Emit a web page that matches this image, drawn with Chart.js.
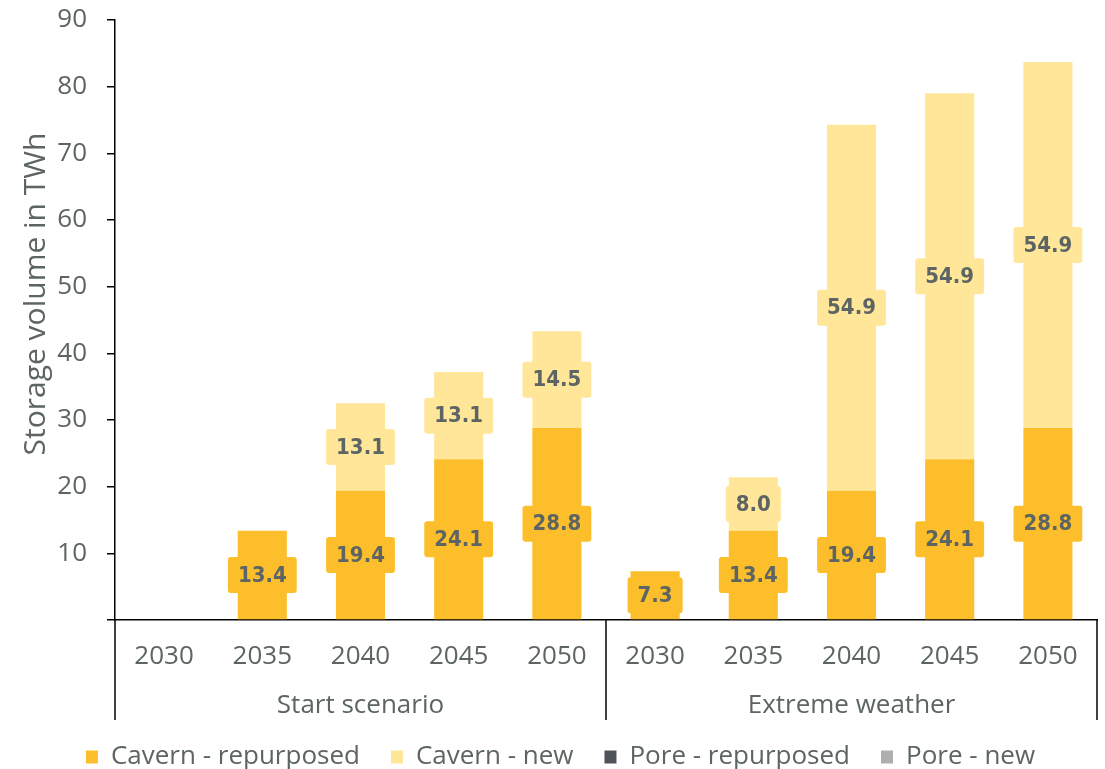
<!DOCTYPE html>
<html>
<head>
<meta charset="utf-8">
<script src="https://cdn.jsdelivr.net/npm/chart.js@4.4.1/dist/chart.umd.min.js"></script>
<style>
  html, body { margin: 0; padding: 0; background: #ffffff; }
  #wrap { width: 1105px; height: 769px; position: relative; }
</style>
</head>
<body>
<div id="wrap"><canvas id="c" width="1105" height="769"></canvas></div>
<script>
// ---- data ----
const years = ['2030', '2035', '2040', '2045', '2050', '2030', '2035', '2040', '2045', '2050'];
const groups = ['Start scenario', 'Extreme weather'];
const groupSize = 5;
const cavernRepurposed = [0, 13.4, 19.4, 24.1, 28.8, 7.3, 13.4, 19.4, 24.1, 28.8];
const cavernNew = [0, 0, 13.1, 13.1, 14.5, 0, 8.0, 54.9, 54.9, 54.9];
const poreRepurposed = [0, 0, 0, 0, 0, 0, 0, 0, 0, 0];
const poreNew = [0, 0, 0, 0, 0, 0, 0, 0, 0, 0];
const seriesNames = ['Cavern - repurposed', 'Cavern - new', 'Pore - repurposed', 'Pore - new'];
const yTicks = [10, 20, 30, 40, 50, 60, 70, 80, 90];
const yTitle = 'Storage volume in TWh';

// ---- style ----
const TEXT = '#5d6464';
const FONT = '"Open Sans", "DejaVu Sans", sans-serif';
const COLORS = ['#FDBE2B', '#FFE699', '#50545A', '#AFAFAF'];

const groupPlugin = {
  id: 'groups',
  afterDraw(chart) {
    const ctx = chart.ctx;
    const xs = chart.scales.x;
    const ca = chart.chartArea;
    const bottom = ca.bottom + 100;
    ctx.save();
    ctx.strokeStyle = '#000';
    ctx.lineWidth = 1.5;
    const seps = [ca.left];
    for (let g = 1; g < groups.length; g++) {
      const i = g * groupSize;
      seps.push((xs.getPixelForValue(i - 1) + xs.getPixelForValue(i)) / 2);
    }
    seps.push(ca.right);
    seps.forEach(x => {
      ctx.beginPath();
      ctx.moveTo(x, ca.bottom);
      ctx.lineTo(x, bottom);
      ctx.stroke();
    });
    ctx.fillStyle = TEXT;
    ctx.font = '26px ' + FONT;
    ctx.textAlign = 'center';
    ctx.textBaseline = 'middle';
    groups.forEach((g, k) => {
      const a = xs.getPixelForValue(k * groupSize);
      const b = xs.getPixelForValue(k * groupSize + groupSize - 1);
      ctx.fillText(g, (a + b) / 2, ca.bottom + 86);
    });
    ctx.translate(36, (ca.top + ca.bottom) / 2 - 26);
    ctx.rotate(-Math.PI / 2);
    ctx.font = '30px ' + FONT;
    ctx.fillText(yTitle, 0, 0);
    ctx.restore();
  }
};

const labelPlugin = {
  id: 'barLabels',
  afterDatasetsDraw(chart) {
    const ctx = chart.ctx;
    ctx.save();
    ctx.font = 'bold 22px "DejaVu Sans Condensed", "DejaVu Sans", sans-serif';
    ctx.textAlign = 'center';
    ctx.textBaseline = 'middle';
    chart.data.datasets.forEach((ds, di) => {
      const meta = chart.getDatasetMeta(di);
      meta.data.forEach((el, i) => {
        const v = ds.data[i];
        if (!v) return;
        const txt = v.toFixed(1);
        const cx = el.x;
        const cy = (el.y + el.base) / 2;
        const w = ctx.measureText(txt).width + 20;
        const h = 36;
        ctx.fillStyle = ds.backgroundColor;
        ctx.beginPath();
        if (ctx.roundRect) ctx.roundRect(cx - w / 2, cy - h / 2, w, h, 3);
        else ctx.rect(cx - w / 2, cy - h / 2, w, h);
        ctx.fill();
        ctx.fillStyle = TEXT;
        ctx.fillText(txt, cx, cy + 1);
      });
    });
    ctx.restore();
  }
};

const seriesData = [cavernRepurposed, cavernNew, poreRepurposed, poreNew];

new Chart(document.getElementById('c'), {
  type: 'bar',
  data: {
    labels: years,
    datasets: seriesNames.map((n, k) => ({
      label: n,
      data: seriesData[k],
      backgroundColor: COLORS[k],
      borderWidth: 0,
      barPercentage: 0.5,
      categoryPercentage: 1.0
    }))
  },
  options: {
    responsive: false,
    animation: false,
    layout: { padding: { top: 20, right: 8, left: 24, bottom: -11 } },
    plugins: {
      tooltip: { enabled: false },
      legend: {
        position: 'bottom',
        labels: {
          font: { family: FONT, size: 26 },
          color: TEXT,
          boxWidth: 12,
          boxHeight: 13,
          padding: 31
        }
      }
    },
    scales: {
      x: {
        stacked: true,
        grid: { display: false, drawTicks: false },
        border: { display: true, color: '#000', width: 1.5 },
        ticks: { font: { family: FONT, size: 26 }, color: TEXT, padding: 21, maxRotation: 0, autoSkip: false },
        afterFit(s) { s.height = 93; s.paddingLeft = 0; s.paddingRight = 0; }
      },
      y: {
        stacked: true,
        min: 0,
        max: 90,
        afterBuildTicks(s) { s.ticks = [0].concat(yTicks).map(v => ({ value: v })); },
        grid: { drawOnChartArea: false, drawTicks: true, tickLength: 8, color: '#000', lineWidth: 1.5 },
        border: { display: true, color: '#000', width: 1.5 },
        ticks: {
          font: { family: FONT, size: 26 },
          color: TEXT,
          padding: 20,
          callback: (v) => (v === 0 ? '' : String(v))
        },
        afterFit(s) { s.width = 91; s.paddingTop = 0; s.paddingBottom = 0; }
      }
    }
  },
  plugins: [groupPlugin, labelPlugin]
});
</script>
</body>
</html>
